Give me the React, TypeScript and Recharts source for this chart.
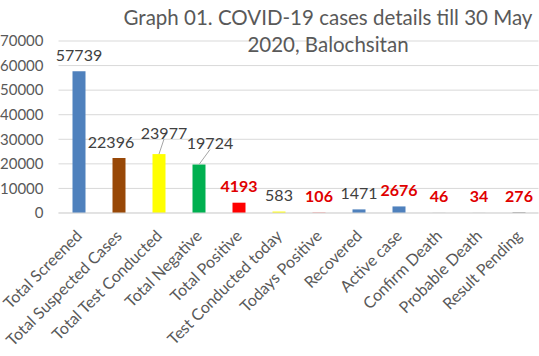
import React from 'react';
import { BarChart, Bar, XAxis, YAxis, CartesianGrid, Cell, LabelList } from 'recharts';

const categories = [
  'Total Screened',
  'Total Suspected Cases',
  'Total Test Conducted',
  'Total Negative',
  'Total Positive',
  'Test Conducted today',
  'Todays Positive',
  'Recovered',
  'Active case',
  'Confirm Death',
  'Probable Death',
  'Result Pending',
];
const values = [57739, 22396, 23977, 19724, 4193, 583, 106, 1471, 2676, 46, 34, 276];
const highlighted = [false, false, false, false, true, false, true, false, true, true, true, true];
const yTicks = [0, 10000, 20000, 30000, 40000, 50000, 60000, 70000];
const titleLines = ['Graph 01. COVID-19 cases details till 30 May', '2020, Balochsitan'];

const barColors = ['#4F81BD', '#984807', '#FFFF00', '#00B050', '#FF0000', '#FFFF00', '#FF0000', '#4F81BD', '#4F81BD', '#7F7F7F', '#7F7F7F', '#7F7F7F'];
const FONT = 'Lato, sans-serif';
const TEXT = '#595959';

const data = categories.map((name, i) => ({ name, value: values[i], hi: highlighted[i] }));

// label nudges (dx, dy) and leader-line flags for crowded labels
const labelNudge: Record<number, [number, number, boolean]> = {
  1: [-8, 1, false],
  2: [5, -5, true],
  3: [11, -5, true],
};

const ValueLabel = (props: any) => {
  const { x, y, width, value } = props;
  let index = props.index;
  if (index === undefined || index === null) index = values.indexOf(value);
  const [dx, dy, leader] = labelNudge[index] || [0, 0, false];
  const cx = Number(x) + Number(width) / 2;
  const top = Number(y);
  const hi = highlighted[index];
  return (
    <g>
      {leader && (
        <line x1={cx} y1={top} x2={cx + dx} y2={top - 10 + dy} stroke="#A6A6A6" strokeWidth={1} />
      )}
      <text
        x={cx + dx}
        y={top - 17 + dy}
        textAnchor="middle"
        dominantBaseline="central"
        fontFamily={FONT}
        fontSize={16}
        fontWeight={hi ? 700 : 400}
        fill={hi ? '#E00000' : '#404040'}
      >
        {value}
      </text>
    </g>
  );
};

const XTick = (props: any) => {
  const { x, y, payload } = props;
  const ax = Number(x) + 4.5;
  const ay = Number(y) + 16;
  return (
    <text
      x={ax}
      y={ay}
      transform={`rotate(-45, ${ax}, ${ay})`}
      textAnchor="end"
      fontFamily={FONT}
      fontSize={16}
      fill={TEXT}
    >
      {payload.value}
    </text>
  );
};

export default function App() {
  return (
    <div style={{ position: 'absolute', left: 0, top: 0, width: 539, height: 356, background: '#fff' }}>
      <BarChart width={539} height={356} data={data} margin={{ top: 41, right: 0.5, left: 0, bottom: 0 }}>
        <CartesianGrid vertical={false} stroke="#D9D9D9" />
        <YAxis
          width={58.5}
          domain={[0, 70000]}
          ticks={yTicks}
          axisLine={false}
          tickLine={false}
          tickMargin={9}
          tick={{ fontFamily: FONT, fontSize: 15, fill: TEXT }}
        />
        <XAxis
          dataKey="name"
          interval={0}
          height={143}
          tickLine={false}
          axisLine={{ stroke: '#D9D9D9' }}
          tick={<XTick />}
        />
        <Bar dataKey="value" barSize={13} isAnimationActive={false}>
          {data.map((d, i) => (
            <Cell key={d.name} fill={barColors[i]} />
          ))}
          <LabelList dataKey="value" content={<ValueLabel />} />
        </Bar>
      </BarChart>
      <svg width={539} height={356} style={{ position: 'absolute', left: 0, top: 0, pointerEvents: 'none' }}>
        {titleLines.map((t, i) => (
          <text key={t} x={328} y={25 + i * 27} textAnchor="middle" fontFamily={FONT} fontSize={20.5} fill={TEXT}>
            {t}
          </text>
        ))}
      </svg>
    </div>
  );
}
